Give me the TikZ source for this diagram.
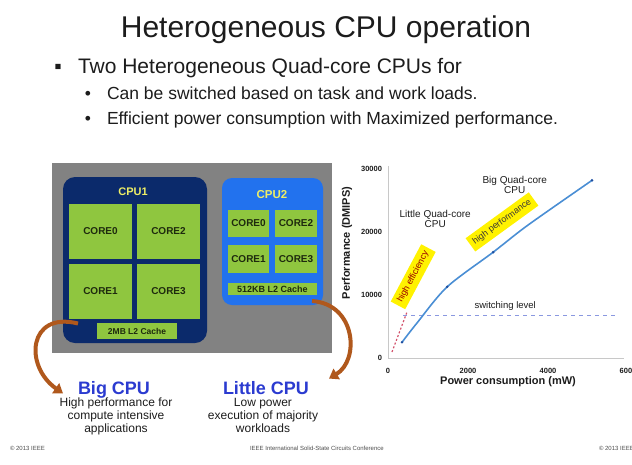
\documentclass[tikz,border=0pt]{standalone}
\usepackage{fontspec}
\setmainfont{Liberation Sans}
\usetikzlibrary{positioning, arrows.meta, calc}

\definecolor{cpunavy}{HTML}{0B2A6B}
\definecolor{cpublue}{HTML}{2272EE}
\definecolor{coregreen}{HTML}{8FC63F}
\definecolor{coretext}{HTML}{1E2A0E}
\definecolor{labelyellow}{HTML}{EEEE66}
\definecolor{slidegray}{HTML}{828282}
\definecolor{arcbrown}{HTML}{B0581C}
\definecolor{headblue}{HTML}{2B3BD0}
\definecolor{bigline}{HTML}{4A8ED4}
\definecolor{bigmark}{HTML}{1F4FA0}
\definecolor{littleline}{HTML}{D2506A}
\definecolor{switchline}{HTML}{8A98E0}
\definecolor{axisgray}{HTML}{C8C8C8}
\definecolor{textdark}{HTML}{1C1C1C}
\definecolor{hlyellow}{HTML}{FFF200}

\newcommand{\fsz}[1]{\fontsize{#1}{#1}\selectfont}

\begin{document}
\begin{tikzpicture}
    [
        x=1pt, y=-1pt,
        every node/.style={inner sep=0pt, outer sep=0pt, text=textdark},
        slidetitle/.style={font=\fsz{30}},
        point/.style={font=\fsz{21}},
        subpoint/.style={font=\fsz{17.5}},
        cpubox/.style={rounded corners=12pt},
        core/.style={fill=coregreen, minimum width=63pt, minimum height=55pt,
            font=\bfseries\fsz{10}, text=coretext},
        smallcore/.style={core, minimum width=41.5pt, minimum height=27.5pt},
        cache/.style={fill=coregreen, font=\bfseries\fsz{8.5}, text=coretext},
        cpulabel/.style={font=\bfseries\fsz{11}, text=labelyellow},
        kind/.style={font=\bfseries\fsz{18}, text=headblue},
        blurb/.style={font=\fsz{12}, align=center, text=textdark},
        swing/.style={draw=arcbrown, line width=4pt, -{Triangle[length=9pt, width=12pt]}},
        tick/.style={font=\bfseries\fsz{7.5}, text=textdark},
        axistitle/.style={font=\bfseries\fsz{11}},
        note/.style={font=\fsz{9.5}, align=center},
        glow/.style={fill=hlyellow, inner xsep=4pt, inner ysep=4pt, font=\fsz{9}},
        footer/.style={font=\fsz{6}, text=black!70}
    ]
        \useasboundingbox (0,0) rectangle (632,464);
        % =========================================================================
        % TEXT
        % =========================================================================
        \node [slidetitle, anchor=base] (title) at (326,37) {Heterogeneous CPU operation};
        \node [point, anchor=base west] (point1) at (78,73) {Two Heterogeneous Quad-core CPUs for};
        \node [point, anchor=base] (dot1) at ($(point1.base west)+(-20,0)$) {▪};
        \node [subpoint, anchor=base west] (sub1) at (107,99) {Can be switched based on task and work loads.};
        \node [subpoint, anchor=base west] (sub2) at (107,124) {Efficient power consumption with Maximized performance.};
        \node [subpoint, anchor=base] (dot2) at ($(sub1.base west)+(-19,0)$) {•};
        \node [subpoint, anchor=base] (dot3) at ($(sub2.base west)+(-19,0)$) {•};

        % =========================================================================
        % CPU BLOCKS
        % =========================================================================
        \node [fill=slidegray, minimum width=280pt, minimum height=190pt] (die) at (192,258) {};
        % --- CPU1 ---
        \node [cpubox, fill=cpunavy, minimum width=144pt, minimum height=166pt] (cpu1) at (135,260) {};
        \node [cpulabel] (cpu1name) at (133,192) {CPU1};
        \node [core] (core10) at (100.5,231) {CORE0};
        \node [core] (core12) at (168.5,231) {CORE2};
        \node [core] (core11) at (100.5,291) {CORE1};
        \node [core] (core13) at (168.5,291) {CORE3};
        \node [cache, minimum width=80pt, minimum height=16pt] (cache1) at (137,331) {2MB L2 Cache};
        % --- CPU2 ---
        \node [cpubox, rounded corners=10pt, fill=cpublue, minimum width=101pt, minimum height=127pt] (cpu2) at (272.5,241.5) {};
        \node [cpulabel, font=\bfseries\fsz{11.5}] (cpu2name) at (272,195) {CPU2};
        \node [smallcore] (core20) at (248.5,223.5) {CORE0};
        \node [smallcore] (core22) at (296,223.5) {CORE2};
        \node [smallcore] (core21) at (248.5,259) {CORE1};
        \node [smallcore] (core23) at (296,259) {CORE3};
        \node [cache, font=\bfseries\fsz{9}, minimum width=89pt, minimum height=12pt] (cache2) at (272.5,289) {512KB L2 Cache};

        % --- Big / Little ---
        \node [kind, anchor=base] (big) at (114,394) {Big CPU};
        \node [blurb, anchor=north] (bigtext) at (116,398) {High performance for\\[1pt] compute intensive\\[1pt] applications};
        \node [kind, anchor=base] (little) at (266,394) {Little CPU};
        \node [blurb, anchor=north] (littletext) at (263,398) {Low power\\[1pt] execution of majority\\[1pt] workloads};

        % --- arcs ---
        \coordinate (bigfrom) at ($(core11.south west)+(9,5)$);
        \coordinate (bigto) at ($(big.west)+(-15,4)$);
        \coordinate (littlefrom) at ($(cpu2.south east)+(-11,-4)$);
        \coordinate (littleto) at ($(little.east)+(20,-9)$);
        \draw [swing] (bigfrom) .. controls (28,311) and (24,366) .. (bigto);
        \draw [swing] (littlefrom) .. controls (356,304) and (360,360) .. (littleto);

        % =========================================================================
        % CHART
        % =========================================================================
        \node [axistitle, rotate=90] (ytitle) at (347,243) {Performance (DMIPS)};
        \node [axistitle] (xtitle) at (508,382) {Power consumption (mW)};
        \begin{scope}[shift={(388,358)}, x=40pt, y=6.3pt]
            \draw [axisgray, line width=0.8pt] (0,30.5) -- (0,0) -- (5.9,0);
            \foreach \v/\t in {0/0, 10/10000, 20/20000, 30/30000}
                \node [tick, anchor=east] (ytick\v) at (-0.15,\v) {\t};
            \foreach \v/\t in {0/0, 2/2000, 4/4000, 6/6000}
                \node [tick] (xtick\v) at (\v,-2) {\t};
            % switching level
            \draw [switchline, dashed, dash pattern=on 4pt off 4pt, line width=1.2pt] (0.38,6.8) -- (5.75,6.8);
            \node [note] (switchnote) at (2.93,8.2) {switching level};
            % curves
            \draw [bigline, line width=1.6pt] plot [smooth] coordinates
                {(0.35,2.5) (0.73,5.6) (1.48,11.3) (2.63,16.8) (3.5,21.1) (5.1,28.2)};
            \foreach \p in {(0.35,2.5), (1.48,11.3), (2.63,16.8), (5.1,28.2)}
                \fill [bigmark] \p circle (1.4pt);
            \draw [littleline, dashed, dash pattern=on 2pt off 2pt, line width=1.2pt] plot [smooth] coordinates
                {(0.1,0.95) (0.28,4.0) (0.475,7.3)};
            % labels
            \node [note, font=\fsz{10}] (bignote) at (3.17,27.4) {Big Quad-core\\ CPU};
            \node [note, font=\fsz{10}] (littlenote) at (1.18,22.0) {Little Quad-core\\ CPU};
            \node [glow, rotate=62, text=red!60!black] (effnote) at (0.63,12.9) {high efficiency};
            \node [glow, rotate=36, text=black!80!yellow!60!black] (perfnote) at (2.85,21.6) {high performance};
        \end{scope}

        % =========================================================================
        % FOOTER
        % =========================================================================
        \node [footer, anchor=west] (copyl) at (10,448) {© 2013 IEEE};
        \node [footer, anchor=west] (conf) at (250,448) {IEEE International Solid-State Circuits Conference};
        \node [footer, anchor=west] (copyr) at (599,448) {© 2013 IEEE};
\end{tikzpicture}
\end{document}
